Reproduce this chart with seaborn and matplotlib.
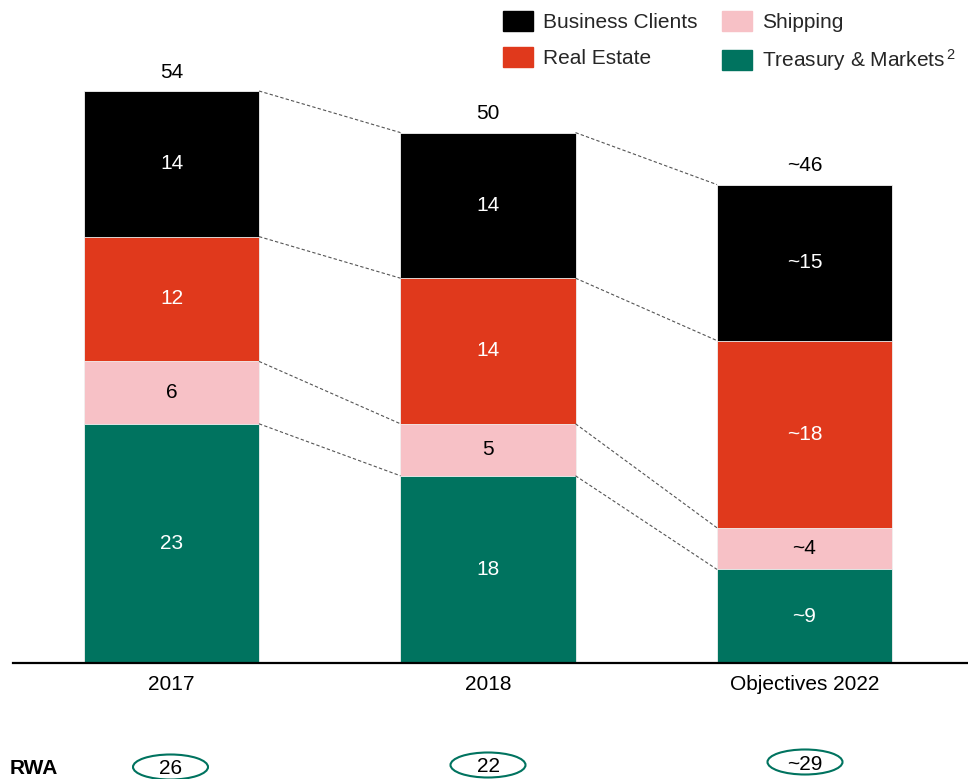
import numpy as np
import matplotlib
matplotlib.use("Agg")
import matplotlib.pyplot as plt
from matplotlib.patches import Rectangle, Ellipse
import seaborn as sns

# ---- data -------------------------------------------------------------
periods = ["2017", "2018", "Objectives 2022"]
business_clients = [14, 14, 15]
real_estate = [12, 14, 18]
shipping = [6, 5, 4]
treasury_markets = [23, 18, 9]
total_labels = ["54", "50", "~46"]
bc_labels = ["14", "14", "~15"]
re_labels = ["12", "14", "~18"]
sh_labels = ["6", "5", "~4"]
tm_labels = ["23", "18", "~9"]
rwa_labels = ["26", "22", "~29"]

series_names = ["Business Clients", "Real Estate", "Shipping", "Treasury & Markets$^{\\,2}$"]
colors = {"bc": "#000000", "re": "#E0391C", "sh": "#F7C1C6", "tm": "#00735F"}

# ---- style ------------------------------------------------------------
sns.set_theme(style="white")
plt.rcParams["font.family"] = ["Liberation Sans", "DejaVu Sans"]
plt.rcParams["mathtext.fontset"] = "custom"
plt.rcParams["mathtext.rm"] = "Liberation Sans"
plt.rcParams["mathtext.it"] = "Liberation Sans"
FS = 15

W, H = 968, 779
fig = plt.figure(figsize=(W / 100, H / 100), dpi=100)
ax_left_px, base_px = 13, 663
ax = fig.add_axes([ax_left_px / W, (H - base_px) / H, 1 - ax_left_px / W, base_px / H])

bar_w = 0.553
tm = np.array(treasury_markets, dtype=float)
sh = tm + np.array(shipping)
re = sh + np.array(real_estate)
bc = re + np.array(business_clients)

# stacked bars: draw cumulative heights from the top segment down
edge = dict(edgecolor="#f2f2f2", linewidth=0.6)
for cum, key in [(bc, "bc"), (re, "re"), (sh, "sh"), (tm, "tm")]:
    sns.barplot(x=periods, y=cum, color=colors[key], width=bar_w, saturation=1,
                errorbar=None, ax=ax, **edge)

ax.set_xlim(-0.5008, 2.5166)
ax.set_ylim(0, 63.75)

# segment value labels
bottoms = [np.zeros(3), tm, sh, re]
segs = [(treasury_markets, tm_labels, "white"), (shipping, sh_labels, "black"),
        (real_estate, re_labels, "white"), (business_clients, bc_labels, "white")]
for (vals, labs, tc), bot in zip(segs, bottoms):
    for i in range(3):
        ax.text(i, bot[i] + vals[i] / 2, labs[i], ha="center", va="center",
                color=tc, fontsize=FS)

# totals above bars
for i in range(3):
    ax.annotate(total_labels[i], (i, bc[i]), xytext=(0, 13.5), textcoords="offset points",
                ha="center", va="center", fontsize=FS, color="black")

# dashed connectors between segment boundaries
for level in [bc, re, sh, tm]:
    for i in range(2):
        ax.plot([i + bar_w / 2, i + 1 - bar_w / 2], [level[i], level[i + 1]],
                color="#555555", lw=0.8, ls=(0, (3, 2)), zorder=1)

# axes styling
for s in ["left", "right", "top"]:
    ax.spines[s].set_visible(False)
ax.spines["bottom"].set_color("black")
ax.spines["bottom"].set_linewidth(1.6)
ax.set_yticks([])
ax.set_ylabel("")
ax.set_xlabel("")
ax.tick_params(axis="x", length=0, pad=9, labelsize=FS, colors="black")

# legend
handles = [Rectangle((0, 0), 1, 1, color=colors[k]) for k in ["bc", "re", "sh", "tm"]]
fig.legend(handles, series_names, ncol=2, loc="upper left",
           bbox_to_anchor=(488 / W, 1 + 4 / H), frameon=False, fontsize=FS,
           handlelength=1.44, handleheight=1.1, handletextpad=0.48,
           columnspacing=1.2, labelspacing=0.74, borderpad=0.2)

# RWA row
fig.text(10 / W, 1 - 768 / H, "RWA", fontsize=FS, fontweight="bold", ha="left",
         va="center", color="black")
ell_centers = [(170.5, 767), (488, 765), (805, 762)]
for (cx, cy), lab in zip(ell_centers, rwa_labels):
    e = Ellipse((cx / W, 1 - cy / H), 75 / W, 25 / H, transform=fig.transFigure,
                fill=False, edgecolor="#00735F", linewidth=1.5)
    fig.add_artist(e)
    fig.text(cx / W, 1 - (cy + 2) / H, lab, fontsize=FS, ha="center", va="center",
             color="black")

fig.savefig("out.png", dpi=100)
